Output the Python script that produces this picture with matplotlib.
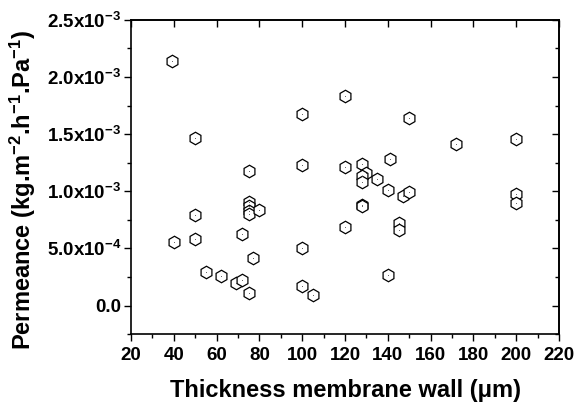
import matplotlib
matplotlib.use("Agg")
import matplotlib.pyplot as plt
import matplotlib.ticker as mticker

# Membrane wall thickness (um) and permeance (kg.m-2.h-1.Pa-1)
thickness = [39, 40, 50, 50, 50, 55, 62, 69, 72, 72,
             75, 75, 75, 75, 75, 75, 77, 80,
             100, 100, 100, 100, 105,
             120, 120, 120, 128, 130, 128, 128, 135, 128, 128,
             140, 141, 140, 145, 145, 147, 150, 150, 172,
             200, 200, 200]
permeance = [2.14e-3, 0.56e-3, 1.47e-3, 0.79e-3, 0.58e-3, 0.29e-3, 0.26e-3, 0.20e-3, 0.22e-3, 0.63e-3,
             0.11e-3, 1.18e-3, 0.91e-3, 0.87e-3, 0.83e-3, 0.80e-3, 0.42e-3, 0.84e-3,
             1.68e-3, 1.23e-3, 0.50e-3, 0.17e-3, 0.09e-3,
             1.83e-3, 1.21e-3, 0.69e-3, 1.24e-3, 1.16e-3, 1.13e-3, 1.08e-3, 1.11e-3, 0.88e-3, 0.87e-3,
             1.01e-3, 1.28e-3, 0.27e-3, 0.72e-3, 0.66e-3, 0.96e-3, 0.99e-3, 1.64e-3, 1.41e-3,
             1.46e-3, 0.98e-3, 0.90e-3]

x_ticks = [20, 40, 60, 80, 100, 120, 140, 160, 180, 200, 220]
y_ticks = [0.0, 0.5e-3, 1.0e-3, 1.5e-3, 2.0e-3, 2.5e-3]
y_tick_labels = ["0.0", "5.0x10$^{-4}$", "1.0x10$^{-3}$", "1.5x10$^{-3}$",
                 "2.0x10$^{-3}$", "2.5x10$^{-3}$"]

plt.rcParams.update({
    "font.family": ["Liberation Sans", "DejaVu Sans"],
    "font.weight": "bold",
    "mathtext.fontset": "custom",
    "mathtext.rm": "Liberation Sans:bold",
    "mathtext.it": "Liberation Sans:bold",
    "mathtext.bf": "Liberation Sans:bold",
    "mathtext.default": "rm",
})

fig = plt.figure(figsize=(5.77, 4.05), dpi=100)
ax = fig.add_axes([0.227, 0.175, 0.742, 0.776])

ax.plot(thickness, permeance, linestyle="none", marker="h", markersize=9,
        markerfacecolor="white", markeredgecolor="black", markeredgewidth=0.9)
ax.plot(thickness, permeance, linestyle="none", marker="o", markersize=0.6,
        color="#444444", markeredgewidth=0)

ax.set_xlim(20, 220)
ax.set_ylim(-0.25e-3, 2.5e-3)
ax.xaxis.set_major_locator(mticker.FixedLocator(x_ticks))
ax.xaxis.set_minor_locator(mticker.MultipleLocator(10))
ax.yaxis.set_major_locator(mticker.FixedLocator(y_ticks))
ax.yaxis.set_major_formatter(mticker.FixedFormatter(y_tick_labels))
ax.yaxis.set_minor_locator(mticker.MultipleLocator(0.25e-3))

for s in ax.spines.values():
    s.set_linewidth(1.2)

ax.tick_params(which="both", direction="out", width=1.0, labelsize=13.5)
ax.tick_params(axis="x", pad=4)
ax.tick_params(axis="y", pad=2)
ax.tick_params(which="major", length=5)
ax.tick_params(which="minor", length=3)
ax.tick_params(which="both", top=False, right=False)

# mirrored ticks on top and right point inward
ax2 = ax.secondary_xaxis("top")
ax2.xaxis.set_major_locator(mticker.FixedLocator(x_ticks))
ax2.tick_params(direction="in", length=5, width=1.0, labeltop=False)
ax3 = ax.secondary_yaxis("right")
ax3.yaxis.set_major_locator(mticker.FixedLocator(y_ticks))
ax3.yaxis.set_minor_locator(mticker.MultipleLocator(0.25e-3))
ax3.tick_params(which="both", direction="in", width=1.0, labelright=False)
ax3.tick_params(which="major", length=5)
ax3.tick_params(which="minor", length=3)
for s in list(ax2.spines.values()) + list(ax3.spines.values()):
    s.set_linewidth(1.2)

ax.set_xlabel("Thickness membrane wall (\u03bcm)", fontsize=17, fontweight="bold", labelpad=11)
ax.set_ylabel("Permeance (kg.m$^{-2}$.h$^{-1}$.Pa$^{-1}$)", fontsize=17, fontweight="bold")
ax.yaxis.set_label_coords(-0.218, 0.46)

fig.savefig("out.png", dpi=100)
